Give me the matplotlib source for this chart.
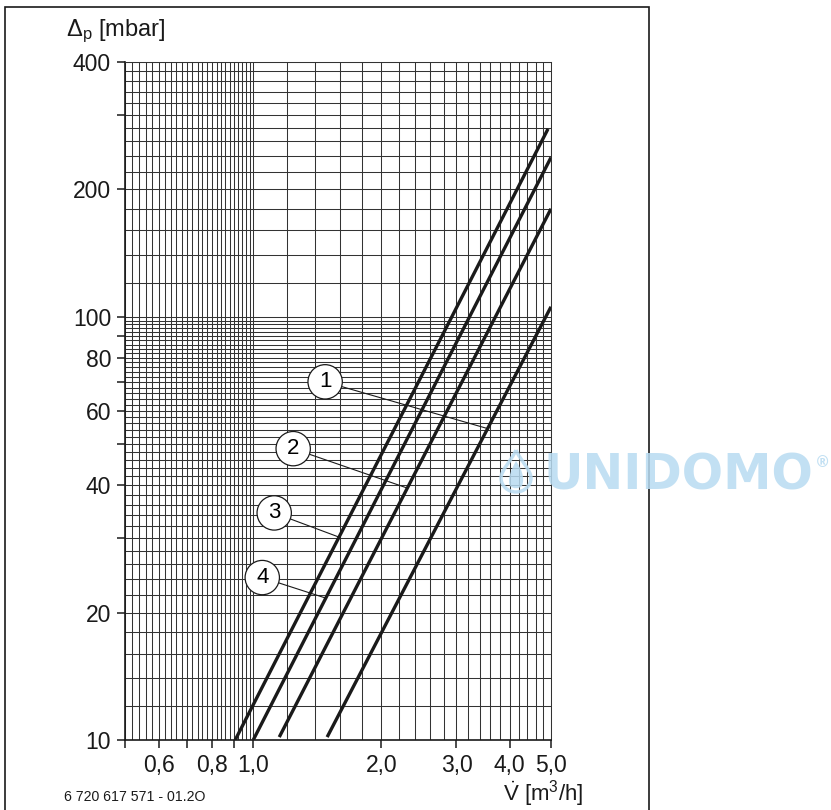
import numpy as np
import matplotlib
matplotlib.use("Agg")
import matplotlib.pyplot as plt
from matplotlib.patches import Rectangle, PathPatch
from matplotlib.path import Path

plt.rcParams["font.family"] = ["Liberation Sans", "DejaVu Sans"]
plt.rcParams["mathtext.fontset"] = "custom"
plt.rcParams["mathtext.rm"] = "Liberation Sans"
plt.rcParams["mathtext.it"] = "Liberation Sans:italic"
plt.rcParams["mathtext.bf"] = "Liberation Sans:bold"

# pressure-loss lines: flow [m3/h] vs pressure drop [mbar]
flow_a = [0.907, 4.92]
dp_a = [10.0, 278.0]
flow_b = [1.0, 5.0]
dp_b = [10.0, 238.0]
flow_c = [1.151, 5.0]
dp_c = [10.16, 180.0]
flow_d = [1.491, 5.0]
dp_d = [10.16, 105.6]

# callouts: number, circle position, flow value where the leader touches the line
callout_nums = ["1", "2", "3", "4"]
callout_pos = [(1.475, 70.2), (1.241, 48.8), (1.120, 34.4), (1.050, 24.2)]
callout_flow = [3.55, 2.30, 1.59, 1.48]
callout_line = ["d", "c", "a", "b"]

x_ticks = [0.5, 0.6, 0.7, 0.8, 0.9, 1.0, 2.0, 3.0, 4.0, 5.0]
x_labels = ["", "0,6", "", "0,8", "", "1,0", "2,0", "3,0", "4,0", "5,0"]
y_ticks = [10, 20, 30, 40, 50, 60, 70, 80, 90, 100, 200, 300, 400]
y_labels = ["10", "20", "", "40", "", "60", "", "80", "", "100", "200", "", "400"]

lines = {"a": (flow_a, dp_a), "b": (flow_b, dp_b), "c": (flow_c, dp_c), "d": (flow_d, dp_d)}

W, H = 831, 810


def px(x, y):
    return (x / W, 1 - y / H)


fig = plt.figure(figsize=(W / 100, H / 100), dpi=100)
ax = fig.add_axes([125 / W, 1 - 740 / H, (551 - 125) / W, (740 - 62) / H])
ax.set_xscale("log")
ax.set_yscale("log")
ax.set_xlim(0.5, 5.0)
ax.set_ylim(10, 400)

# chart paper grid
grid_x = np.concatenate([np.arange(0.5, 1.0, 0.02), np.arange(1.0, 5.01, 0.2)])
grid_y = np.concatenate([np.arange(10, 100, 2), np.arange(100, 401, 20)])
for gx in grid_x:
    ax.axvline(gx, color="#333333", lw=0.75, zorder=1)
for gy in grid_y:
    ax.axhline(gy, color="#333333", lw=0.75, zorder=1)

for key, (fl, dp) in lines.items():
    ax.plot(fl, dp, color="#1a1a1a", lw=2.4, solid_capstyle="butt", zorder=3)

for num, pos, fq, key in zip(callout_nums, callout_pos, callout_flow, callout_line):
    fl, dp = lines[key]
    target = 10 ** np.interp(np.log10(fq), np.log10(fl), np.log10(dp))
    ax.annotate(num, xy=(fq, target), xytext=pos, fontsize=16, ha="center", va="center",
                bbox=dict(boxstyle="circle,pad=0.3", fc="white", ec="#1a1a1a", lw=0.9),
                arrowprops=dict(arrowstyle="-", color="#1a1a1a", lw=0.8,
                                shrinkA=0, shrinkB=0),
                zorder=5)

ax.set_xticks(x_ticks)
ax.set_xticklabels(x_labels)
ax.set_yticks(y_ticks)
ax.set_yticklabels(y_labels)
ax.xaxis.set_minor_locator(matplotlib.ticker.NullLocator())
ax.yaxis.set_minor_locator(matplotlib.ticker.NullLocator())
ax.tick_params(axis="both", direction="out", length=6, width=1.1, labelsize=16.5,
               color="#1a1a1a", labelcolor="#1a1a1a")
ax.tick_params(axis="x", pad=4)
ax.tick_params(axis="y", pad=4)
for side in ["top", "right"]:
    ax.spines[side].set_linewidth(0.75)
    ax.spines[side].set_color("#333333")
for side in ["left", "bottom"]:
    ax.spines[side].set_linewidth(1.2)
    ax.spines[side].set_color("#1a1a1a")

# axis titles
fig.text(*px(66, 36), r"$\Delta_{\mathrm{p}}$ [mbar]", fontsize=17, color="#1a1a1a",
         ha="left", va="baseline")
fig.text(*px(503, 801), r"$\dot{\mathrm{V}}$ [m$^{3}$/h]", fontsize=16, color="#1a1a1a",
         ha="left", va="baseline")
fig.text(*px(64, 801), "6 720 617 571 - 01.2O", fontsize=10.2, color="#1a1a1a",
         ha="left", va="baseline")

# outer frame
fig.patches.append(Rectangle(px(5, 812), (649 - 5) / W, (812 - 7) / H,
                             transform=fig.transFigure, fill=False,
                             ec="#1a1a1a", lw=1.2))

# watermark
wm = "#b8dbf1"
drop = [(516, 450), (520, 460), (531, 470), (531, 478),
        (531, 486), (524, 492), (516, 492),
        (508, 492), (501, 486), (501, 478),
        (501, 470), (512, 460), (516, 450)]
codes = [Path.MOVETO] + [Path.CURVE4] * 12
fig.patches.append(PathPatch(Path([px(*p) for p in drop], codes), transform=fig.transFigure,
                             fill=False, ec=wm, lw=2.5, alpha=0.85, zorder=10))
flame = [(516, 461), (522, 470), (525, 478), (522, 486),
         (519, 489), (513, 489), (510, 486),
         (507, 479), (511, 470), (516, 461)]
fcodes = [Path.MOVETO] + [Path.CURVE4] * 9
fig.patches.append(PathPatch(Path([px(*p) for p in flame], fcodes), transform=fig.transFigure,
                             fc=wm, ec="none", alpha=0.85, zorder=10))
fig.text(*px(544, 489), "UNIDOMO", fontsize=35, fontweight="bold", color=wm,
         family="DejaVu Sans", ha="left", va="baseline", alpha=0.85, zorder=10)
fig.text(*px(815, 467), "®", fontsize=11, fontweight="bold", color=wm,
         family="DejaVu Sans", ha="left", va="baseline", alpha=0.85, zorder=10)

fig.savefig("out.png", dpi=100)
